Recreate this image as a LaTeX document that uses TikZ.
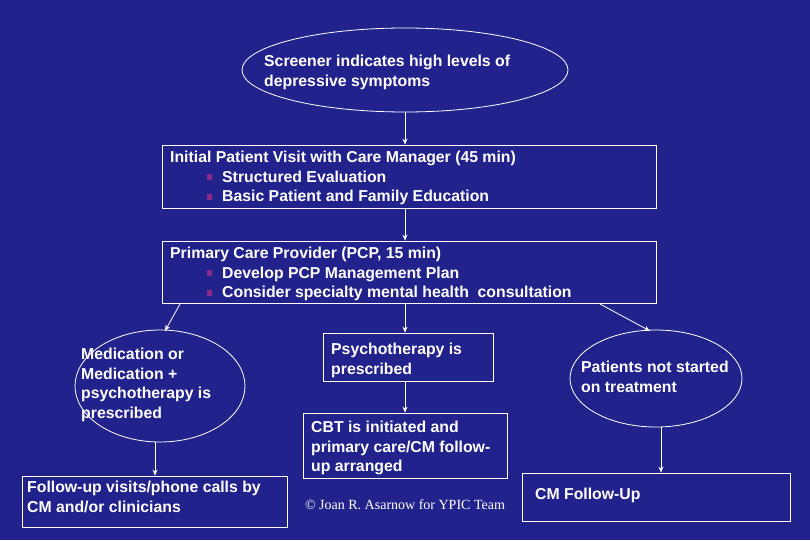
\documentclass[tikz,border=0pt]{standalone}
\usepackage{fontspec}
\setmainfont{Liberation Sans}
\newfontfamily\serifx{Liberation Serif}
\usetikzlibrary{shapes.geometric,arrows.meta}
\definecolor{bg}{HTML}{22228C}
\definecolor{bul}{HTML}{8A2A8A}
\newcommand{\bl}{\textcolor{bul}{\rule[2pt]{4.5pt}{6pt}}\hspace{10.5pt}}
\tikzset{
 bx/.style={draw=white,line width=0.8pt,rectangle},
 el/.style={draw=white,line width=0.8pt,ellipse},
 txt/.style={text=white,font=\bfseries\fontsize{15.8}{19.5}\selectfont,align=left,anchor=north west,inner sep=0},
 ar/.style={draw=white,line width=0.8pt,-{Stealth[length=6pt,width=5pt]}}
}
\begin{document}
\begin{tikzpicture}[x=1pt,y=-1pt]
\useasboundingbox[fill=bg] (0,0) rectangle (810,540);
\node[el,minimum width=326pt,minimum height=84pt] (e1) at (405,70) {};
\node[txt] (t1) at (264,55) {Screener indicates high levels of\\depressive symptoms};
\node[bx,minimum width=494pt,minimum height=63pt] (b1) at (409,176.5) {};
\node[txt] (t2) at (170,151) {Initial Patient Visit with Care Manager (45 min)\\\hspace{37pt}\bl Structured Evaluation\\\hspace{37pt}\bl Basic Patient and Family Education};
\node[bx,minimum width=494pt,minimum height=62pt] (b2) at (409,272) {};
\node[txt] (t3) at (170,247) {Primary Care Provider (PCP, 15 min)\\\hspace{37pt}\bl Develop PCP Management Plan\\\hspace{37pt}\bl Consider specialty mental health\ \ consultation};
\node[el,minimum width=170pt,minimum height=112pt] (e2) at (160,386) {};
\node[txt] (t4) at (81,348) {Medication or\\Medication +\\psychotherapy is\\prescribed};
\node[bx,minimum width=170pt,minimum height=48pt] (b3) at (408,357) {};
\node[txt] (t5) at (331,343) {Psychotherapy is\\prescribed};
\node[bx,minimum width=204pt,minimum height=65pt] (b4) at (405,445.5) {};
\node[txt] (t6) at (311,421) {CBT is initiated and\\primary care/CM follow-\\up arranged};
\node[el,minimum width=172pt,minimum height=97pt] (e3) at (656,378.5) {};
\node[txt] (t7) at (581,361) {Patients not started\\on treatment};
\node[bx,minimum width=265pt,minimum height=51pt] (b5) at (154.5,501.5) {};
\node[txt] (t8) at (27,481) {Follow-up visits/phone calls by\\CM and/or clinicians};
\node[bx,minimum width=268pt,minimum height=48pt] (b6) at (656,497) {};
\node[txt] (t9) at (535,488) {CM Follow-Up};
\node[text=white,font=\serifx\fontsize{14}{16}\selectfont,inner sep=0] (cp) at (405,505) {\textcopyright{} Joan R. Asarnow for YPIC Team};
\coordinate (s1) at (180,304);
\coordinate (s2) at (600,304);
\coordinate (s3) at (155,442);
\coordinate (s4) at (661,427);
\draw[ar] (e1.south) -- (b1.north -| e1.south);
\draw[ar] (b1.south -| e1.south) -- (b2.north -| e1.south);
\draw[ar] (s1) -- (165,331);
\draw[ar] (b2.south -| e1.south) -- (b3.north -| e1.south);
\draw[ar] (s2) -- (650,331);
\draw[ar] (b3.south -| e1.south) -- (b4.north -| e1.south);
\draw[ar] (s3) -- (s3 |- b5.north);
\draw[ar] (s4) -- (s4 |- b6.north);
\end{tikzpicture}
\end{document}
